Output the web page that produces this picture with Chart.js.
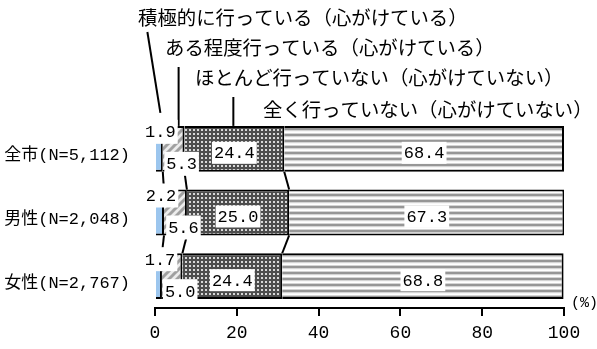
<!DOCTYPE html>
<html>
<head>
<meta charset="utf-8">
<script src="https://cdn.jsdelivr.net/npm/chart.js@4.4.0/dist/chart.umd.min.js"></script>
<style>
  body { margin: 0; background: #fff; }
  #wrap { width: 597px; height: 349px; }
</style>
</head>
<body>
<div id="wrap"><canvas id="myChart" width="597" height="349"></canvas></div>
<script>
const categories = ['全市(N=5,112)', '男性(N=2,048)', '女性(N=2,767)'];
const seriesNames = [
  '積極的に行っている（心がけている）',
  'ある程度行っている（心がけている）',
  'ほとんど行っていない（心がけていない）',
  '全く行っていない（心がけていない）'
];
const active = [1.9, 2.2, 1.7];
const somewhat = [5.3, 5.6, 5.0];
const rarely = [24.4, 25.0, 24.4];
const never = [68.4, 67.3, 68.8];

const ctx = document.getElementById('myChart');
const c2d = ctx.getContext('2d');

function makePattern(w, h, draw) {
  const c = document.createElement('canvas');
  c.width = w; c.height = h;
  draw(c.getContext('2d'));
  return c2d.createPattern(c, 'repeat');
}

// fills
const blueFill = '#9cc6ee';
const diagFill = makePattern(8, 8, g => {
  g.fillStyle = '#ececec'; g.fillRect(0, 0, 8, 8);
  g.strokeStyle = '#a0a0a0'; g.lineWidth = 3;
  g.beginPath(); g.moveTo(-2, 10); g.lineTo(10, -2); g.stroke();
  g.beginPath(); g.moveTo(-2, 2); g.lineTo(2, -2); g.stroke();
  g.beginPath(); g.moveTo(6, 10); g.lineTo(10, 6); g.stroke();
});
const dotFill = makePattern(4, 4, g => {
  g.fillStyle = '#4d4d4d'; g.fillRect(0, 0, 4, 4);
  g.fillStyle = '#d8d8d8'; g.fillRect(1, 1, 2, 2);
});
const stripeFill = makePattern(6, 6, g => {
  const rows = ['#ffffff', '#d4d4d4', '#969696', '#969696', '#d4d4d4', '#f6f6f6'];
  rows.forEach((col, i) => { g.fillStyle = col; g.fillRect(0, i, 6, 1); });
});

// [dx, dy, box height] for each series' value label
const labelOffsets = [[1, -17, 24], [8, 15, 24], [0, 4, 22], [0, 4, 22]];
const numFont = '"Liberation Mono", "DejaVu Sans Mono", monospace';
const jpFont = '"Noto Sans CJK JP", sans-serif';

const overlay = {
  id: 'overlay',
  afterDatasetsDraw(chart) {
    const g = chart.ctx;
    g.save();
    g.strokeStyle = '#000';
    g.lineWidth = 2;
    // series lines between bars
    for (let d = 0; d < 3; d++) {
      const m = chart.getDatasetMeta(d).data;
      for (let j = 0; j < m.length - 1; j++) {
        const a = m[j], b = m[j + 1];
        g.beginPath();
        g.moveTo(a.x, a.y + a.height / 2);
        g.lineTo(b.x, b.y - b.height / 2);
        g.stroke();
      }
    }
    // leader lines from the series names to the first bar
    const e0 = chart.getDatasetMeta(0).data[0];
    const e1 = chart.getDatasetMeta(1).data[0];
    const e2 = chart.getDatasetMeta(2).data[0];
    const top = e0.y - e0.height / 2;
    const c0 = (e0.x + e0.base) / 2, c1 = (e1.x + e1.base) / 2, c2 = (e2.x + e2.base) / 2;
    g.beginPath(); g.moveTo(c0 - 12, 32); g.lineTo(c0 + 1, top - 13); g.stroke();
    g.beginPath(); g.moveTo(c1 + 5, 67); g.lineTo(c1 + 5, top); g.stroke();
    g.beginPath(); g.moveTo(c2 - 1, 97); g.lineTo(c2 - 1, top); g.stroke();

    // value labels
    g.font = '17px ' + numFont;
    g.textAlign = 'center';
    g.textBaseline = 'middle';
    chart.data.datasets.forEach((ds, d) => {
      chart.getDatasetMeta(d).data.forEach((el, j) => {
        const t = ds.data[j].toFixed(1);
        const o = labelOffsets[d];
        const cx = (el.x + el.base) / 2 + o[0];
        const cy = el.y + o[1];
        const w = g.measureText(t).width + 4;
        g.fillStyle = '#fff';
        g.fillRect(cx - w / 2, cy - o[2] / 2, w, o[2]);
        g.fillStyle = '#000';
        g.fillText(t, cx, cy + 1);
      });
    });
    g.restore();
  },
  afterDraw(chart) {
    const g = chart.ctx;
    g.save();
    g.fillStyle = '#000';
    g.textBaseline = 'middle';
    g.textAlign = 'left';
    g.font = '19.4px ' + jpFont;
    const pos = [[138, 18], [165, 48], [195, 78], [263, 110]];
    seriesNames.forEach((s, i) => g.fillText(s, pos[i][0], pos[i][1]));
    const xs = chart.scales.x;
    g.font = '15px ' + numFont;
    g.fillText('(%)', xs.right + 7, xs.top - 5);
    g.restore();
  }
};

new Chart(ctx, {
  type: 'bar',
  data: {
    labels: categories,
    datasets: [
      { label: seriesNames[0], data: active, backgroundColor: blueFill },
      { label: seriesNames[1], data: somewhat, backgroundColor: diagFill },
      { label: seriesNames[2], data: rarely, backgroundColor: dotFill },
      { label: seriesNames[3], data: never, backgroundColor: stripeFill }
    ]
  },
  options: {
    indexAxis: 'y',
    responsive: false,
    animation: false,
    layout: { padding: { top: 117, right: 33, bottom: 0, left: 0 } },
    datasets: {
      bar: { categoryPercentage: 1, barPercentage: 0.72, borderColor: '#000', borderWidth: 2 }
    },
    plugins: { legend: { display: false }, tooltip: { enabled: false } },
    scales: {
      x: {
        stacked: true,
        min: 0,
        max: 100,
        ticks: { stepSize: 20, color: '#000', font: { family: numFont, size: 18 }, padding: 6 },
        grid: { drawOnChartArea: false, drawTicks: true, tickLength: 8, color: '#000', lineWidth: 2 },
        border: { color: '#000', width: 2 },
        afterFit(s) { s.height = 41; }
      },
      y: {
        stacked: true,
        ticks: { color: '#000', font: { family: '"Liberation Mono", "Noto Sans CJK JP"', size: 17 }, padding: 17, labelOffset: 7 },
        grid: { display: false },
        border: { display: false },
        afterFit(s) { s.width = 155; }
      }
    }
  },
  plugins: [overlay]
});
</script>
</body>
</html>
